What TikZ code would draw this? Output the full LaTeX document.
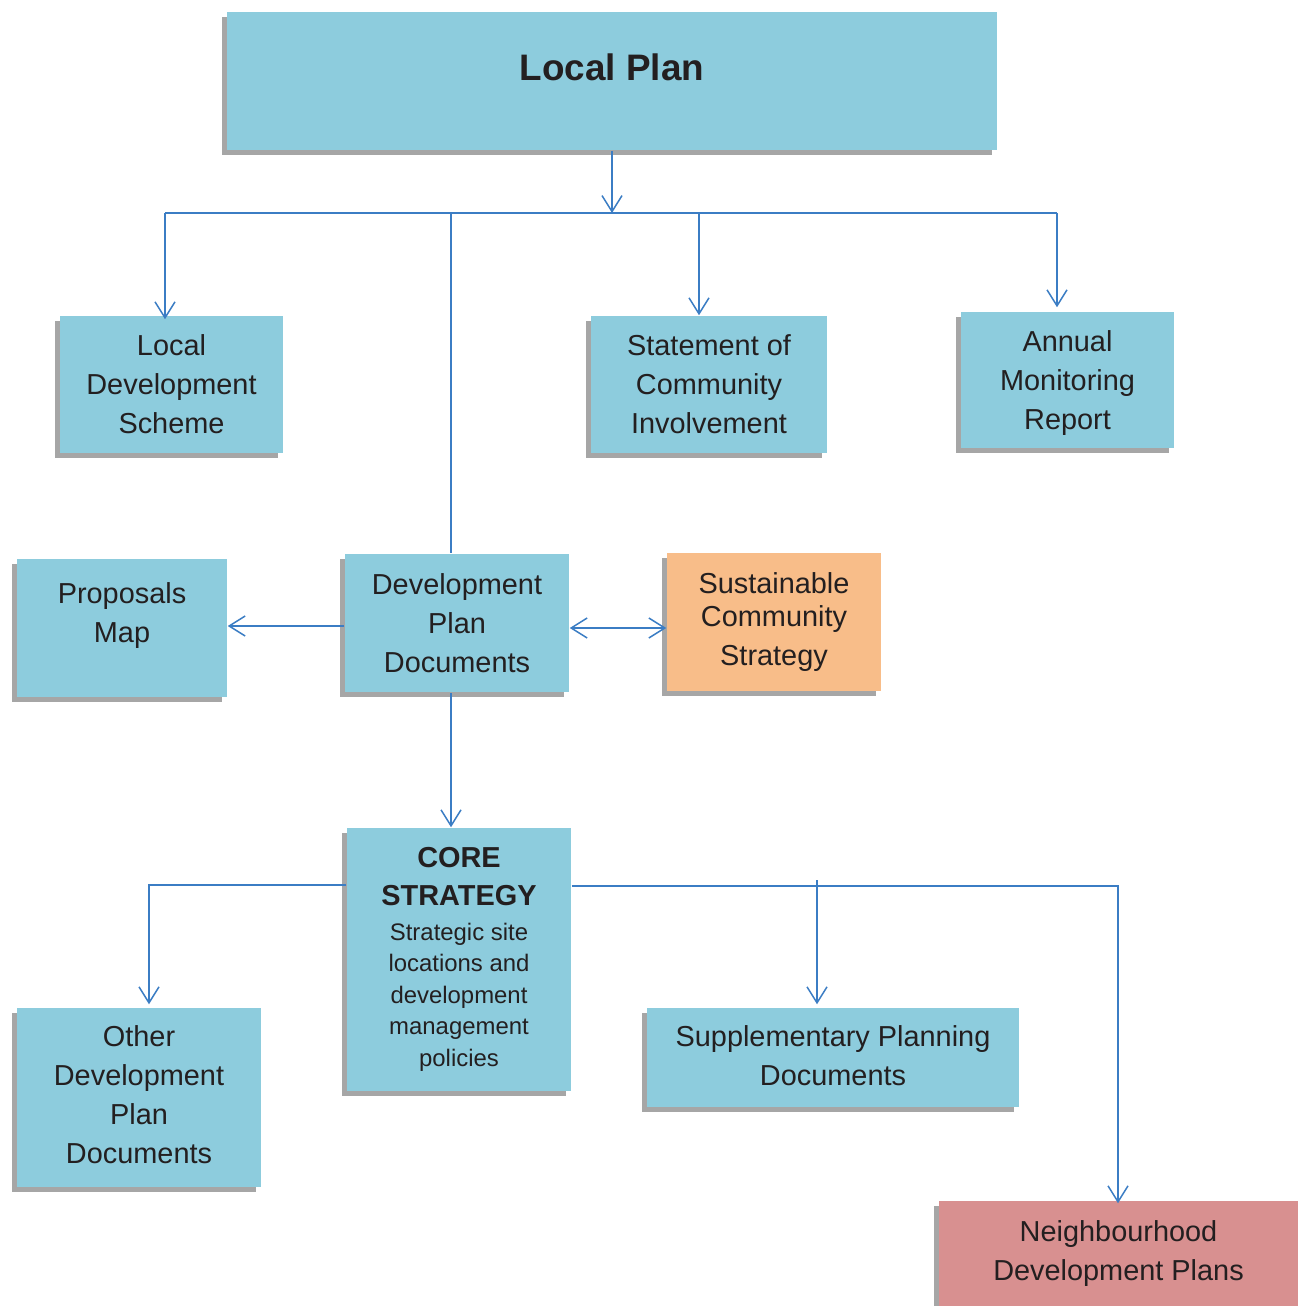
\documentclass[tikz,border=0pt]{standalone}
\usepackage{fontspec}
\setmainfont{Liberation Sans}
\usetikzlibrary{arrows.meta,shadows}

\definecolor{boxblue}{RGB}{141,204,221}
\definecolor{boxorange}{RGB}{248,189,137}
\definecolor{boxpink}{RGB}{216,144,144}
\definecolor{lineblue}{RGB}{59,125,196}
\definecolor{textdark}{RGB}{35,31,32}

\begin{document}
\begin{tikzpicture}[x=1bp, y=-1bp, line width=1.5bp,
  >={Straight Barb[length=16bp,width=20bp]},
  box/.style={fill=boxblue, text=textdark, inner sep=0pt, align=center,
    font=\fontsize{29}{39}\selectfont,
    drop shadow={shadow xshift=-5bp, shadow yshift=-5bp, fill=black, opacity=.35}},
  conn/.style={draw=lineblue}]

% page and margins
\fill[white] (0,0) rectangle (1298,1306);
\clip (0,0) rectangle (1298,1306);

% draw top box
\node[box, minimum width=770bp, minimum height=138bp, text height=27bp, text depth=27bp,
  font=\bfseries\fontsize{37}{44}\selectfont] (lp) at (612,81) {Local Plan};

% draw second row
\node[box, minimum width=223bp, minimum height=137bp] (lds) at (171.5,384.5) {Local\\Development\\Scheme};
\node[box, minimum width=236bp, minimum height=137bp] (sci) at (709,384.5) {Statement of\\Community\\Involvement};
\node[box, minimum width=213bp, minimum height=136bp, text depth=0bp] (amr) at (1067.5,380) {Annual\\Monitoring\\Report};

% draw third row
\node[box, minimum width=210bp, minimum height=138bp, text height=107bp] (pm) at (122,628) {Proposals\\Map\\\mbox{}};
\node[box, minimum width=224bp, minimum height=138bp] (dpd) at (457,623) {Development\\Plan\\Documents};
\node[box, fill=boxorange, minimum width=214bp, minimum height=138bp] (scs) at (774,622) {Sustainable\\[-5bp]Community\\Strategy};

% draw core strategy
\node[box, minimum width=224bp, minimum height=263bp, font=\fontsize{24}{31.7}\selectfont] (cs) at (459,959.5)
  {{\bfseries\fontsize{29}{38}\selectfont CORE}\\[6.3bp]{\bfseries\fontsize{29}{38}\selectfont STRATEGY}\\[2.8bp]Strategic site\\locations and\\development\\management\\policies};

% draw bottom row
\node[box, minimum width=244bp, minimum height=179bp, text depth=6bp] (odpd) at (139,1097.5) {Other\\Development\\Plan\\Documents};
\node[box, minimum width=372bp, minimum height=99bp, text depth=4bp] (spd) at (833,1057.5) {Supplementary Planning\\Documents};
\node[box, fill=boxpink, minimum width=359bp, minimum height=110bp, text depth=11bp] (ndp) at (1118.5,1256) {Neighbourhood\\Development Plans};

% draw upper bus
\coordinate (busL) at (165,213);
\coordinate (busD) at (451,213);
\coordinate (busS) at (699,213);
\coordinate (busR) at (1057,213);

\draw[conn,->] (lp.south) -- (lp.south |- busL);
\draw[conn] (busL) -- (busR);
\draw[conn,->] (busL) -- ([yshift=-4bp]busL |- lds.north);
\draw[conn] (busD) -- (busD |- dpd.north);
\draw[conn,->] (busS) -- (busS |- sci.north);
\draw[conn,->] (busR) -- ([yshift=4bp]busR |- amr.north);

% draw links of development plan documents
\coordinate (dpdL) at (0,626);
\coordinate (dpdR) at (0,628);
\draw[conn,->] (dpdL -| dpd.west) -- (dpdL -| pm.east);
\draw[conn,<->] (dpdR -| dpd.east) -- (dpdR -| scs.west);
\draw[conn,->] (busD |- dpd.south) -- (busD |- cs.north);

% draw lower bus
\coordinate (csL) at (149,885);
\coordinate (csR) at (1118,886);
\coordinate (csS) at (817,880);

\draw[conn,->] (csL -| cs.west) -- (csL) -- ([yshift=3bp]csL |- odpd.north);
\draw[conn,->] (csR -| cs.east) -- (csR) -- ([yshift=-3bp]csR |- ndp.north);
\draw[conn,->] (csS) -- ([yshift=3bp]csS |- spd.north);

\end{tikzpicture}
\end{document}
